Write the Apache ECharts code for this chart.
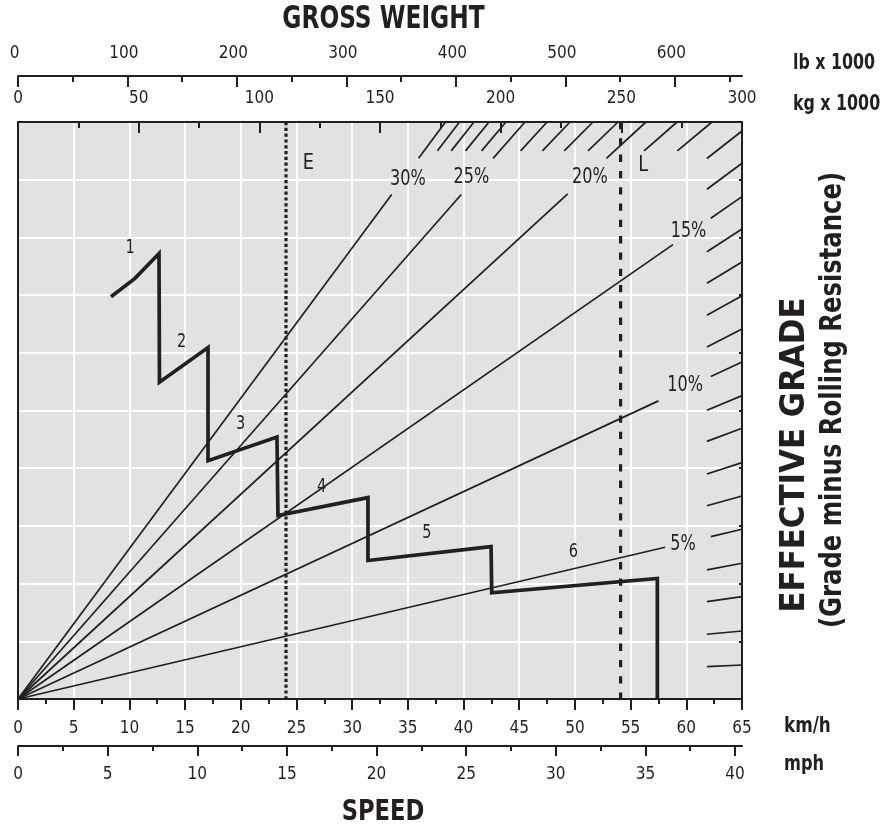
<!DOCTYPE html>
<html>
<head>
<meta charset="utf-8">
<script src="https://cdn.jsdelivr.net/npm/echarts@6/dist/echarts.min.js"></script>
<style>
html,body{margin:0;padding:0;background:#fff;}
#chart{width:891px;height:829px;}
</style>
</head>
<body>
<div id="chart"></div>
<script>
// ---------------- data ----------------
const kmhMax = 65;
const kmhPerMph = 1.609344;
const lbPerKg = 2.20462;
const kgMax = 300;
const mphMajor = [0, 5, 10, 15, 20, 25, 30, 35, 40];
const mphMinor = [2.5, 7.5, 12.5, 17.5, 22.5, 27.5, 32.5, 37.5];
const lbMajor = [0, 100, 200, 300, 400, 500, 600];
const lbMinor = [50, 150, 250, 350, 450, 550, 650];

// Effective grade lines 1%..30%: point where each radial line meets the plot border
const gradePct = [1,2,3,4,5,6,7,8,9,10,11,12,13,14,15,16,17,18,19,20,21,22,23,24,25,26,27,28,29,30];
const gradeEdgeX = [65,65,65,65,65,65,65,65,65,65,65,65,65,65,65,65,65,
                    62.31,59.17,56.38,53.87,51.62,49.56,47.50,45.52,43.81,42.29,40.94,39.64,38.38];
const gradeEdgeY = [0.589,1.179,1.774,2.353,2.942,3.519,4.097,4.693,5.258,5.841,6.412,6.990,7.574,8.146,8.706,9.285,9.844,
                    10,10,10,10,10,10,10,10,10,10,10,10,10];

// Labelled grade lines
const labelledPct = [5, 10, 15, 20, 25, 30];
const labelledText = ['5%', '10%', '15%', '20%', '25%', '30%'];
const labelledLineEndX = [58.1, 57.5, 58.8, 49.35, 39.8, 33.55];
const labelledLabelX = [59.7, 59.9, 60.2, 51.35, 40.7, 35.0];
const labelledLabelY = [2.67, 5.44, 8.10, 9.03, 9.03, 9.00];

// Retarder curve, gears 1..6
const curveSpeed = [8.35, 10.50, 12.66, 12.70, 17.06, 17.06, 23.25, 23.34, 31.42, 31.42, 42.47, 42.53, 57.40, 57.40];
const curveGrade = [6.97, 7.29, 7.72, 5.49, 6.09, 4.13, 4.54, 3.18, 3.49, 2.40, 2.64, 1.84, 2.09, 0];
const gearNames = ['1', '2', '3', '4', '5', '6'];
const gearLabelX = [10.06, 14.7, 19.99, 27.27, 36.7, 49.86];
const gearLabelY = [7.81, 6.18, 4.77, 3.67, 2.88, 2.55];

// Reference speeds E and L
const refNames = ['E', 'L'];
const refSpeed = [24.06, 54.1];
const refLabelX = [26.07, 56.14];
const refLabelY = [9.28, 9.25];

// ---------------- styles ----------------
const ink = '#231f20';
const plotBg = '#e1e2e3';
const FF = "'DejaVu Sans Condensed','DejaVu Sans',sans-serif";

// ---------------- build ----------------
const gradeSlope = gradePct.map((p, i) => gradeEdgeY[i] / gradeEdgeX[i]);

const gradeLines = labelledPct.map((p, i) => {
  const k = gradePct.indexOf(p);
  const x = labelledLineEndX[i];
  return { coords: [[0, 0], [x, gradeSlope[k] * x]] };
});

const hatchLines = gradePct.map((p, k) => {
  const s = gradeSlope[k];
  const labelled = labelledPct.indexOf(p) >= 0;
  let start;
  if (gradeEdgeX[k] >= kmhMax) {
    const sx = labelled ? 62.2 : 61.85;
    start = [sx, s * sx];
  } else {
    const sy = labelled ? 9.37 : 9.5;
    start = [sy / s, sy];
  }
  return { coords: [start, [gradeEdgeX[k], gradeEdgeY[k]]] };
});

const curveData = curveSpeed.map((v, i) => [v, curveGrade[i]]);

// condensed in-plot labels placed through the axes' scales
function textSeries(names, xs, ys, size, sx) {
  return {
    type: 'custom', xAxisIndex: 0, yAxisIndex: 0, silent: true, z: 5,
    data: names.map((n, i) => [xs[i], ys[i]]),
    renderItem: function (params, api) {
      const p = api.coord([api.value(0), api.value(1)]);
      return { type: 'text', x: p[0], y: p[1], scaleX: sx,
               style: { text: names[params.dataIndex], fill: ink,
                        font: size + 'px ' + FF, textAlign: 'center', textVerticalAlign: 'middle' } };
    }
  };
}

const tickLine = { color: ink, width: 2 };
const labelBase = { color: ink, fontFamily: FF, fontSize: 17 };

function gtext(text, x, y, size, align, sx, rot) {
  return { type: 'text', x: x, y: y, rotation: rot || 0, scaleX: sx,
           style: { text: text, fill: ink, font: 'bold ' + size + 'px ' + FF,
                    textAlign: align, textVerticalAlign: 'middle' } };
}

const option = {
  animation: false,
  backgroundColor: '#ffffff',
  grid: { left: 18, top: 122, width: 724, height: 577, show: true,
          backgroundColor: plotBg, borderWidth: 0 },
  xAxis: [
    { type: 'value', position: 'bottom', min: 0, max: kmhMax, interval: 5,
      axisLine: { show: true, onZero: false, lineStyle: tickLine },
      axisTick: { show: true, length: 11, lineStyle: tickLine },
      minorTick: { show: true, splitNumber: 2, length: 5, lineStyle: tickLine },
      axisLabel: Object.assign({ margin: 21 }, labelBase),
      splitLine: { show: true, lineStyle: { color: '#ffffff', width: 2 } } },
    { type: 'value', position: 'bottom', offset: 47, min: 0, max: kmhMax / kmhPerMph,
      axisLine: { show: true, onZero: false, lineStyle: tickLine },
      axisTick: { show: true, length: 10, lineStyle: tickLine, customValues: mphMajor },
      axisLabel: Object.assign({ margin: 20, customValues: mphMajor }, labelBase),
      splitLine: { show: false } },
    { type: 'value', position: 'bottom', offset: 47, min: 0, max: kmhMax / kmhPerMph,
      axisLine: { show: false, onZero: false },
      axisTick: { show: true, length: 5, lineStyle: tickLine, customValues: mphMinor },
      axisLabel: { show: false }, splitLine: { show: false } },
    { type: 'value', position: 'top', offset: 0, min: 0, max: kgMax, interval: 50,
      axisLine: { show: true, onZero: false, lineStyle: tickLine },
      axisTick: { show: true, inside: true, length: 11, lineStyle: tickLine },
      minorTick: { show: true, splitNumber: 2, length: 6, lineStyle: tickLine },
      axisLabel: Object.assign({ margin: 14.5 }, labelBase),
      splitLine: { show: false } },
    { type: 'value', position: 'top', offset: 46, min: 0, max: kgMax * lbPerKg,
      axisLine: { show: true, onZero: false, lineStyle: tickLine },
      axisTick: { show: true, inside: true, length: 11, lineStyle: tickLine, customValues: lbMajor },
      axisLabel: Object.assign({ margin: 13.5, customValues: lbMajor, padding: [0, 7, 0, 0] }, labelBase),
      splitLine: { show: false } },
    { type: 'value', position: 'top', offset: 46, min: 0, max: kgMax * lbPerKg,
      axisLine: { show: false, onZero: false },
      axisTick: { show: true, inside: true, length: 6, lineStyle: tickLine, customValues: lbMinor },
      axisLabel: { show: false }, splitLine: { show: false } }
  ],
  yAxis: [
    { type: 'value', position: 'left', min: 0, max: 10, interval: 1,
      axisLine: { show: true, onZero: false, lineStyle: tickLine },
      axisTick: { show: false }, axisLabel: { show: false },
      splitLine: { show: true, lineStyle: { color: '#ffffff', width: 2 } } },
    { type: 'value', position: 'right', min: 0, max: 10, interval: 1,
      axisLine: { show: true, onZero: false, lineStyle: tickLine },
      axisTick: { show: true, inside: true, length: 3, lineStyle: tickLine },
      axisLabel: { show: false }, splitLine: { show: false } }
  ],
  series: [
    { type: 'lines', coordinateSystem: 'cartesian2d', xAxisIndex: 0, yAxisIndex: 0,
      polyline: false, silent: true, z: 3,
      lineStyle: { color: ink, width: 1.7, opacity: 1, curveness: 0 }, data: gradeLines },
    { type: 'lines', coordinateSystem: 'cartesian2d', xAxisIndex: 0, yAxisIndex: 0,
      polyline: false, silent: true, z: 3,
      lineStyle: { color: ink, width: 1.7, opacity: 1, curveness: 0 }, data: hatchLines },
    { type: 'line', xAxisIndex: 0, yAxisIndex: 0, showSymbol: false, silent: true, z: 4,
      lineStyle: { color: ink, width: 3.2, type: [3.2, 2.6], cap: 'butt' },
      data: [[refSpeed[0], 10], [refSpeed[0], 0]] },
    { type: 'line', xAxisIndex: 0, yAxisIndex: 0, showSymbol: false, silent: true, z: 4,
      lineStyle: { color: ink, width: 3.2, type: [7.3, 9], cap: 'butt' },
      data: [[refSpeed[1], 10], [refSpeed[1], 0]] },
    { type: 'line', xAxisIndex: 0, yAxisIndex: 0, showSymbol: false, silent: true, z: 6,
      lineStyle: { color: ink, width: 3.7, join: 'miter', cap: 'butt' }, data: curveData },
    textSeries(labelledText, labelledLabelX, labelledLabelY, 21, 0.85),
    textSeries(gearNames, gearLabelX, gearLabelY, 19, 0.85),
    textSeries(refNames, refLabelX, refLabelY, 22, 0.9)
  ],
  graphic: [
    gtext('GROSS WEIGHT', 383.5, 20, 32, 'center', 0.81),
    gtext('SPEED', 383, 813, 28, 'center', 0.9),
    gtext('lb x 1000', 793, 63, 22, 'left', 0.8),
    gtext('kg x 1000', 793, 104, 22, 'left', 0.8),
    gtext('km/h', 784, 726, 22, 'left', 0.85),
    gtext('mph', 784, 764, 22, 'left', 0.82),
    gtext('EFFECTIVE GRADE', 795, 455, 33, 'center', 1.04, Math.PI / 2),
    gtext('(Grade minus Rolling Resistance)', 833, 400, 30, 'center', 0.9, Math.PI / 2)
  ]
};

const chart = echarts.init(document.getElementById('chart'), null, { renderer: 'canvas' });
chart.setOption(option);
</script>
</body>
</html>
